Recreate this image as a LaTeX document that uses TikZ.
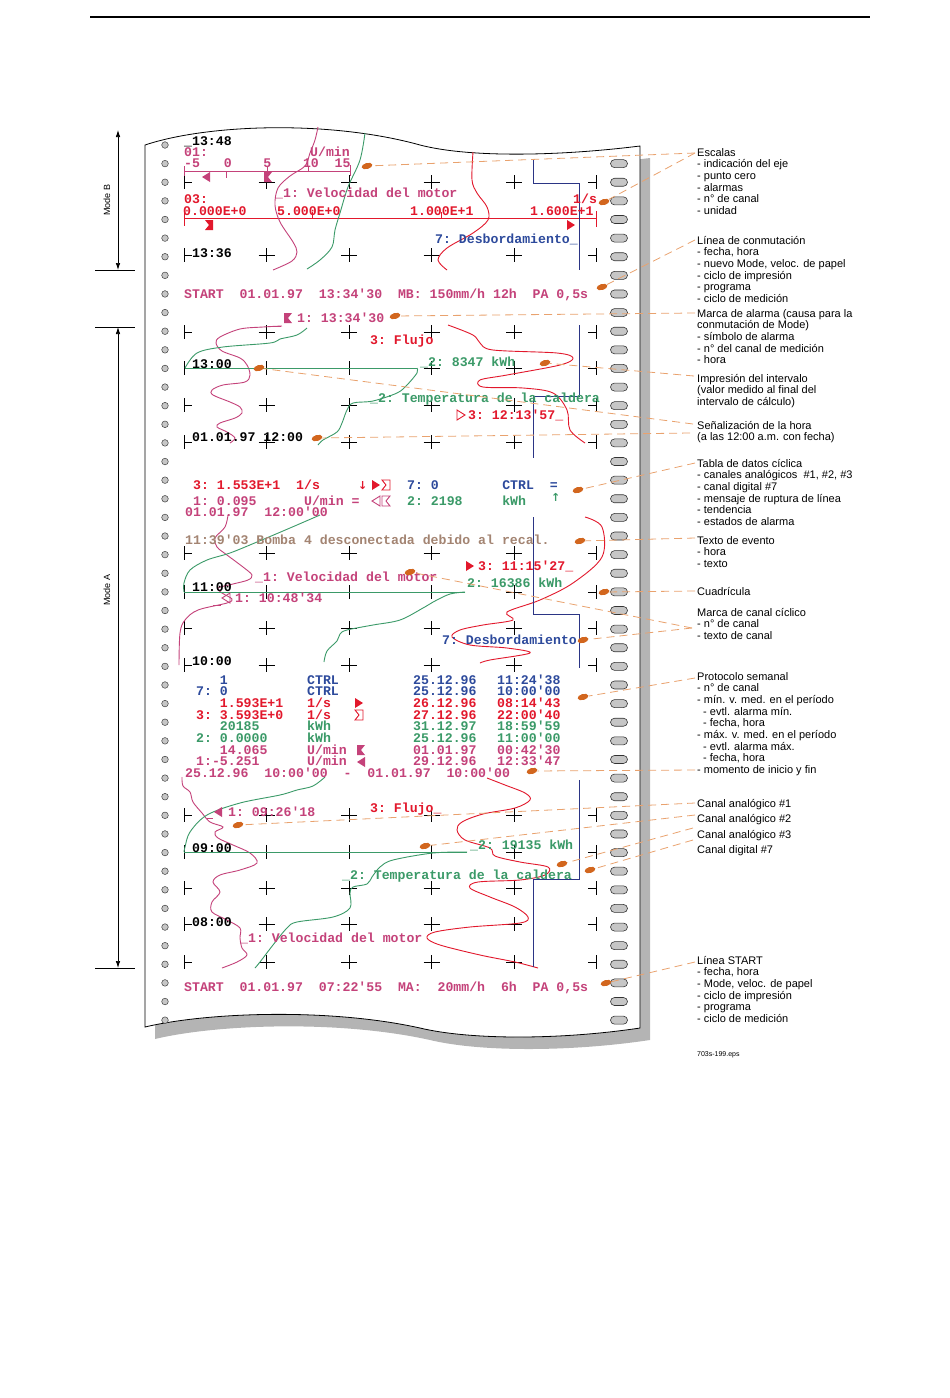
\documentclass[tikz,border=0pt]{standalone}
\usepackage{fontspec}
\setmainfont{Liberation Sans}
\newfontfamily\chartfont{Liberation Mono}
\newfontfamily\arrowfont{DejaVu Sans}
\usepackage{tikz}
\usetikzlibrary{arrows.meta,shapes.geometric}
\definecolor{speedcol}{HTML}{C4427A}
\definecolor{tempcol}{HTML}{3B9A68}
\definecolor{flowcol}{HTML}{E2182C}
\definecolor{digcol}{HTML}{2D4A9C}
\definecolor{digline}{HTML}{2B3585}
\definecolor{eventcol}{HTML}{A38472}
\definecolor{blobcol}{HTML}{D2661E}
\definecolor{calloutcol}{HTML}{E9A26E}
\definecolor{shadowcol}{HTML}{B4B4B4}
\definecolor{holecol}{HTML}{C6C6C6}

% outline of the paper strip (top and bottom cut alike)
\newcommand{\paperpath}{(145,145) .. controls (208,124) and (330,120) .. (420,145)
  .. controls (470,158) and (560,156) .. (640,146) -- (640,1028)
  .. controls (560,1040) and (470,1040) .. (420,1028)
  .. controls (330,1008) and (208,1012) .. (145,1027) -- cycle}

\tikzset{
  chart/.style={font=\chartfont\bfseries\fontsize{13.2}{13.2}\selectfont, inner sep=0pt,
    text height=8.7pt, text depth=0pt, anchor=west},
  note/.style={font=\fontsize{11}{11.7}\selectfont, inner sep=0pt, anchor=base west, align=left},
  blob/.style={ellipse, fill=blobcol, minimum width=11pt, minimum height=6pt, inner sep=0pt, rotate=15},
  callout/.style={calloutcol, line width=0.8pt, dash pattern=on 8pt off 5pt},
  trace/.style={line width=0.9pt, smooth, tension=0.55},
  gridtick/.style={line width=0.75pt, black},
  pics/alarmright/.style={code={\path[pic actions] (-4,-5) -- (4,0) -- (-4,5) -- cycle;}},
  pics/alarmleft/.style={code={\path[pic actions] (4,-5) -- (-4,0) -- (4,5) -- cycle;}},
  pics/notchmax/.style={code={\path[pic actions] (-4,-5) -- (4,-5) -- (4,5) -- (-4,5) -- (0,0) -- cycle;}},
  pics/notchmin/.style={code={\path[pic actions] (-4,-5) -- (4,-5) -- (0,0) -- (4,5) -- (-4,5) -- cycle;}},
}

\begin{document}
\begin{tikzpicture}[x=1pt, y=-1pt, >=Latex]
\useasboundingbox (0,0) rectangle (950,1398);

% header rule
\draw[line width=1.2pt] (90,17) -- (870,17);

% paper strip with shadow
\fill[shadowcol, shift={(10,12)}] \paperpath;
\filldraw[fill=white, draw=black, line width=0.8pt] \paperpath;

% feed holes
\foreach \k in {0,...,47}
  \filldraw[fill=holecol, draw=black!75, line width=0.5pt] (165,{145+18.62*\k}) circle (3.3);
\foreach \k in {1,...,47}
  \filldraw[fill=holecol, draw=black!80, line width=0.6pt, rounded corners=4pt]
    (610.5,{141+18.62*\k}) rectangle ++(17,8);

% grid
\foreach \gy in {182,255,332,368,405,442,553,592,628,665,815,852,888,924,962}{
  \draw[gridtick] (184,\gy-7) -- (184,\gy+7) (184,\gy) -- (192,\gy);
  \foreach \gx in {266.5,349,431.5,514}
    \draw[gridtick] (\gx-8,\gy) -- (\gx+8,\gy) (\gx,\gy-7) -- (\gx,\gy+7);
  \draw[gridtick] (596.5,\gy-7) -- (596.5,\gy+7) (588,\gy) -- (596.5,\gy);
}

% scales (Mode B)
\draw[speedcol, line width=0.8pt] (184,171) -- (350,171)
  (184,166) -- (184,176) (226,171) -- (226,178) (267,166) -- (267,171)
  (308.5,166) -- (308.5,171) (350,165) -- (350,176);
\draw[flowcol, line width=0.8pt] (184,218) -- (596,218)
  (184,211) -- (184,226) (312.5,212) -- (312.5,218) (441.5,212) -- (441.5,218) (596,211) -- (596,227);

% channel 1, motor speed
\draw[trace, speedcol] plot coordinates {(318,127) (315,140) (310,153) (305,166) (290,176) (278,188) (275,205) (280,222) (293,242) (297,252) (292,261) (273,270)};
\draw[trace, speedcol] plot coordinates {(282,326) (263,327) (240,329) (220,337) (216,343) (222,351) (240,358) (247,365) (250,375) (245,382) (223,385) (212,390) (213,395) (230,402) (240,407) (242,413) (235,418) (220,423) (217,427) (227,432) (235,438) (230,443)};
\draw[trace, speedcol] plot coordinates {(228,515) (225,527) (215,538) (217,547) (227,555) (243,567) (252,575) (248,580) (233,584) (218,588) (222,593) (232,599) (227,603) (198,610) (185,620) (180,633) (179,665)};
\draw[trace, speedcol] plot coordinates {(182,777) (183,786) (190,792) (193,802) (202,813) (210,822) (223,827) (215,832) (218,838) (233,845) (250,853) (257,863) (240,870) (220,875) (213,882) (220,892) (212,902) (212,912) (227,920) (240,928) (240,938) (242,948) (247,955) (237,962) (222,968)};

% channel 2, boiler temperature
\draw[trace, tempcol] plot coordinates {(365,133) (360,160) (348,187) (340,213) (335,230) (332,247) (320,260) (307,269)};
\draw[trace, tempcol] plot coordinates {(307,328) (297,335) (280,339) (270,343) (223,347) (197,353) (185,368)};
\draw[tempcol, line width=0.9pt] (185,368) -- (417,368);
\draw[trace, tempcol] plot coordinates {(417,368) (417,373) (407,385) (397,393) (373,401) (353,403) (347,410) (342,423) (337,432) (323,440) (318,445)};
\draw[trace, tempcol] plot coordinates {(320,515) (290,528) (257,542) (230,553) (207,560) (190,570) (184,583) (184,592)};
\draw[tempcol, line width=0.9pt] (184,592) -- (465,592);
\draw[trace, tempcol] plot coordinates {(465,592) (450,594) (435,601) (423,608) (400,620) (373,625) (347,630) (340,634) (337,641) (327,651) (324,662)};
\draw[trace, tempcol] plot coordinates {(325,777) (313,786) (297,790) (280,795) (240,803) (207,815) (190,832) (185,847) (184,852)};
\draw[tempcol, line width=0.9pt] (184,852) -- (467,852);
\draw[trace, tempcol] plot coordinates {(467,852) (433,853) (393,860) (380,867) (372,877) (367,884) (353,887) (350,893) (350,908) (333,917) (297,922) (287,928) (273,945) (260,962) (255,968)};

% channel 3, flow
\draw[trace, flowcol] plot coordinates {(473,152) (472,180) (477,193) (487,207) (488,220) (473,233) (447,248) (438,260) (447,270)};
\draw[trace, flowcol] plot coordinates {(448,325) (473,335) (480,343) (493,350) (557,353) (573,358) (560,365) (507,375) (480,380) (483,387) (523,388) (553,393) (567,410) (570,430) (585,443)};
\draw[trace, flowcol] plot coordinates {(585,517) (602,527) (602,557) (573,583) (540,600) (507,612) (513,620) (483,625) (460,630) (452,637) (470,645) (507,648) (530,653) (490,660) (480,663)};
\draw[trace, flowcol] plot coordinates {(487,778) (505,785) (525,793) (530,800) (515,808) (483,814) (462,822) (457,830) (465,840) (490,848) (495,856) (520,862) (548,867) (545,875) (520,880) (478,882) (470,888) (490,897) (515,907) (528,917) (520,923) (470,927) (435,932) (427,938) (440,945) (480,955) (515,962) (538,968)};

% channel 7, digital
\draw[digline, line width=0.9pt] (533,160) -- (533,183) -- (579,183) -- (579,270);
\draw[digline, line width=0.9pt] (579,325) -- (579,396) -- (533,396) -- (533,458);
\draw[digline, line width=0.9pt] (533,517) -- (533,614) -- (579,614) -- (579,668);
\draw[digline, line width=0.9pt] (579,780) -- (579,879) -- (533,879) -- (533,967);

% printed texts, Mode B
\node[chart] (t1348) at (184,141) {\_13:48};
\node[chart, speedcol] (scaleOne) at (184,152.5) {01:};
\node[chart, speedcol] (scaleOneUnit) at (310,152.5) {U/min};
\node[chart, speedcol] (scaleOneNum) at (184,163.5) {-5~~~0~~~~5~~~~10~~15};
\node[chart, speedcol] (speedName1) at (275,193) {\_1:~Velocidad~del~motor};
\node[chart, flowcol] (scaleThree) at (184,199) {03:};
\node[chart, flowcol] (scaleThreeUnit) at (573,199) {1/s};
\node[chart, flowcol] (scaleThreeA) at (183,211) {0.000E+0};
\node[chart, flowcol] (scaleThreeB) at (277,211) {5.000E+0};
\node[chart, flowcol] (scaleThreeC) at (410,211) {1.000E+1};
\node[chart, flowcol] (scaleThreeD) at (530,211) {1.600E+1};
\node[chart, digcol] (digName1) at (435,239) {7:~Desbordamiento\_};
\node[chart] (t1336) at (192,253) {13:36};
\node[chart, speedcol] (startB) at (184,294) {START~~01.01.97~~13:34'30~~MB:~150mm/h~12h~~PA~0,5s};

% Mode A, first hours
\node[chart, speedcol] (alarmOne) at (297,318) {1:~13:34'30};
\node[chart, flowcol] (flowName1) at (370,340) {3:~Flujo};
\node[chart] (t1300) at (192,364) {13:00};
\node[chart, tempcol] (tempVal1) at (420,362) {\_2:~8347~kWh};
\node[chart, tempcol] (tempName1) at (370,398) {\_2:~Temperatura~de~la~caldera};
\node[chart, flowcol] (alarmThree) at (468,415) {3:~12:13'57\_};
\node[chart] (t1200) at (192,437) {01.01.97~12:00};

% cyclic data table and event
\node[chart, flowcol] (tabFlow) at (193,485) {3:~1.553E+1~~1/s};
\node[chart, flowcol, font=\arrowfont\bfseries\fontsize{11}{11}\selectfont] (tabDown) at (358,485) {↓};
\node[chart, digcol] (tabDig) at (407,485) {7:~0~~~~~~~~CTRL~~=};
\node[chart, speedcol] (tabSpeed) at (193,501) {1:~0.095~~~~~~U/min~=};
\node[chart, tempcol] (tabTemp) at (407,501) {2:~2198~~~~~kWh};
\node[chart, tempcol, font=\arrowfont\bfseries\fontsize{11}{11}\selectfont] (tabUp) at (551,497) {↑};
\node[chart, speedcol] (tabTime) at (185,512.5) {01.01.97~~12:00'00};
\node[chart, eventcol] (eventText) at (185,540) {11:39'03~Bomba~4~desconectada~debido~al~recal.};
\node[chart, flowcol] (alarmThreeB) at (478,566) {3:~11:15'27\_};
\node[chart, speedcol] (speedName2) at (255,577) {\_1:~Velocidad~del~motor};
\node[chart, tempcol] (tempVal2) at (467,583) {2:~16386~kWh};
\node[chart] (t1100) at (192,587) {11:00};
\node[chart, speedcol] (alarmOneB) at (235,598) {1:~10:48'34};
\node[chart, digcol] (digName2) at (442,640) {7:~Desbordamiento};
\node[chart] (t1000) at (192,661) {10:00};

% weekly protocol
\foreach \py/\pc/\pval/\punit/\pdate/\ptime [count=\pi] in {
  680/digcol/{~~~1}/{CTRL}/{25.12.96}/{11:24'38},
  691.5/digcol/{7:~0}/{CTRL}/{25.12.96}/{10:00'00},
  703/flowcol/{~~~1.593E+1}/{1/s}/{26.12.96}/{08:14'43},
  715/flowcol/{3:~3.593E+0}/{1/s}/{27.12.96}/{22:00'40},
  726.5/tempcol/{~~~20185}/{kWh}/{31.12.97}/{18:59'59},
  738/tempcol/{2:~0.0000}/{kWh}/{25.12.96}/{11:00'00},
  750/speedcol/{~~~14.065}/{U/min}/{01.01.97}/{00:42'30},
  761.5/speedcol/{1:-5.251}/{U/min}/{29.12.96}/{12:33'47}}{
  \node[chart, color=\pc] (pval\pi) at (196,\py) {\pval};
  \node[chart, color=\pc] (punit\pi) at (307,\py) {\punit};
  \node[chart, color=\pc] (pdate\pi) at (413,\py) {\pdate};
  \node[chart, color=\pc] (ptime\pi) at (497,\py) {\ptime};
}
\node[chart, speedcol] (weekSpan) at (185,773) {25.12.96~~10:00'00~~-~~01.01.97~~10:00'00};

% Mode A, last hours
\node[chart, speedcol] (alarmOneC) at (228,812) {1:~09:26'18};
\node[chart, flowcol] (flowName2) at (370,808) {3:~Flujo\_};
\node[chart] (t0900) at (192,848) {09:00};
\node[chart, tempcol] (tempVal3) at (470,845) {\_2:~19135~kWh};
\node[chart, tempcol] (tempName2) at (342,875) {\_2:~Temperatura~de~la~caldera};
\node[chart] (t0800) at (192,922) {08:00};
\node[chart, speedcol] (speedName3) at (240,938) {\_1:~Velocidad~del~motor};
\node[chart, speedcol] (startA) at (184,987) {START~~01.01.97~~07:22'55~~MA:~~20mm/h~~6h~~PA~0,5s};

% alarm symbols
\pic[fill=speedcol] at (206,177) {alarmleft};
\pic[fill=speedcol] at (268,177) {notchmin};
\pic[fill=flowcol] at (209,225) {notchmax};
\pic[fill=flowcol] at (571,225) {alarmright};
\pic[fill=speedcol] at (288,318) {notchmin};
\draw[speedcol, line width=0.9pt] (273,326) -- (281,326);
\pic[draw=flowcol, line width=0.9pt] at (461,415) {alarmright};
\pic[fill=flowcol] at (376,485) {alarmright};
\pic[draw=flowcol, line width=0.9pt] at (386,485) {notchmax};
\pic[draw=speedcol, line width=0.9pt] at (376,501) {alarmleft};
\pic[draw=speedcol, line width=0.9pt] at (386,501) {notchmin};
\pic[fill=flowcol] at (470,566) {alarmright};
\pic[draw=speedcol, line width=0.9pt] at (226,598) {alarmleft};
\draw[speedcol, line width=0.9pt] (213,605) -- (221,605);
\pic[fill=flowcol] at (359,703) {alarmright};
\pic[draw=flowcol, line width=0.9pt] at (359,715) {notchmax};
\pic[fill=speedcol] at (361,750) {notchmin};
\pic[fill=speedcol] at (361,762) {alarmleft};
\pic[fill=speedcol] at (218,812) {alarmleft};
\draw[speedcol, line width=0.9pt] (207,818) -- (213,818);

% explanations (base = last line)
\node[note] (escalas) at (697,214.5) {Escalas\\- indicación del eje\\- punto cero\\- alarmas\\- n° de canal\\- unidad};
\node[note] (conmut) at (697,302.5) {Línea de conmutación\\- fecha, hora\\- nuevo Mode, veloc. de papel\\- ciclo de impresión\\- programa\\- ciclo de medición};
\node[note] (marca) at (697,363.8) {Marca de alarma (causa para la\\conmutación de Mode)\\- símbolo de alarma\\- n° del canal de medición\\- hora};
\node[note] (impres) at (697,405.4) {Impresión del intervalo\\(valor medido al final del\\intervalo de cálculo)};
\node[note] (senal) at (697,440.7) {Señalización de la hora\\(a las 12:00 a.m. con fecha)};
\node[note] (tabla) at (697,525.5) {Tabla de datos cíclica\\- canales analógicos~~\#1, \#2, \#3\\- canal digital \#7\\- mensaje de ruptura de línea\\- tendencia\\- estados de alarma};
\node[note] (evento) at (697,567.4) {Texto de evento\\- hora\\- texto};
\node[note] (cuadr) at (697,595.5) {Cuadrícula};
\node[note] (ciclo) at (697,639.4) {Marca de canal cíclico\\- n° de canal\\- texto de canal};
\node[note] (proto) at (697,773.6) {Protocolo semanal\\- n° de canal\\- mín. v. med. en el período\\\hspace{6pt}- evtl. alarma mín.\\\hspace{6pt}- fecha, hora\\- máx. v. med. en el período\\\hspace{6pt}- evtl. alarma máx.\\\hspace{6pt}- fecha, hora\\- momento de inicio y fin};
\node[note] (chOne) at (697,807) {Canal analógico \#1};
\node[note] (chTwo) at (697,822.5) {Canal analógico \#2};
\node[note] (chThree) at (697,838) {Canal analógico \#3};
\node[note] (chSeven) at (697,853.5) {Canal digital \#7};
\node[note] (startNote) at (697,1022.5) {Línea START\\- fecha, hora\\- Mode, veloc. de papel\\- ciclo de impresión\\- programa\\- ciclo de medición};
\node[note, font=\fontsize{7}{7}\selectfont] (epsName) at (697,1056) {703s-199.eps};

% callout ends at the explanations
\coordinate (escalasEnd) at (695,153);
\coordinate (conmutEnd) at (695,240);
\coordinate (marcaEnd) at (695,313);
\coordinate (impresEnd) at (694,376);
\coordinate (senalEndA) at (693,424);
\coordinate (senalEndB) at (690,433);
\coordinate (tablaEnd) at (695,463);
\coordinate (eventoEnd) at (695,538);
\coordinate (cuadrEnd) at (695,591);
\coordinate (cicloEnd) at (692,628);
\coordinate (protoEnd) at (695,678);
\coordinate (momentoEnd) at (695,770);
\coordinate (chOneEnd) at (695,803);
\coordinate (chTwoEnd) at (695,815);
\coordinate (chThreeEnd) at (693,828);
\coordinate (chSevenEnd) at (693,840);
\coordinate (startEnd) at (695,962);

% pointers on the chart
\node[blob] (bScaleU) at (367,166) {};
\node[blob] (bScaleS) at (604,202) {};
\node[blob] (bSwitch) at (602,287) {};
\node[blob] (bAlarm) at (395,316) {};
\node[blob] (bInterval) at (545,363) {};
\node[blob] (bHour) at (259,368) {};
\node[blob] (bDate) at (317,438) {};
\node[blob] (bTable) at (578,490) {};
\node[blob] (bEvent) at (580,541) {};
\node[blob] (bGrid) at (604,592) {};
\node[blob] (bMarkOne) at (410,572) {};
\node[blob] (bMarkSeven) at (583,640) {};
\node[blob] (bWeek) at (583,697) {};
\node[blob] (bPeriod) at (532,771) {};
\node[blob] (bChOne) at (238,825) {};
\node[blob] (bChTwo) at (425,846) {};
\node[blob] (bChThree) at (562,864) {};
\node[blob] (bChSeven) at (590,870) {};
\node[blob] (bStart) at (606,983) {};

\draw[callout] (escalasEnd) -- (bScaleU);
\draw[callout] (escalasEnd) -- (bScaleS);
\draw[callout] (conmutEnd) -- (bSwitch);
\draw[callout] (marcaEnd) -- (bAlarm);
\draw[callout] (impresEnd) -- (bInterval);
\draw[callout] (senalEndA) -- (bHour);
\draw[callout] (senalEndB) -- (bDate);
\draw[callout] (tablaEnd) -- (bTable);
\draw[callout] (eventoEnd) -- (bEvent);
\draw[callout] (cuadrEnd) -- (bGrid);
\draw[callout] (cicloEnd) -- (bMarkOne);
\draw[callout] (cicloEnd) -- (bMarkSeven);
\draw[callout] (protoEnd) -- (bWeek);
\draw[callout] (momentoEnd) -- (bPeriod);
\draw[callout] (chOneEnd) -- (bChOne);
\draw[callout] (chTwoEnd) -- (bChTwo);
\draw[callout] (chThreeEnd) -- (bChThree);
\draw[callout] (chSevenEnd) -- (bChSeven);
\draw[callout] (startEnd) -- (bStart);

% mode ranges
\draw[line width=0.6pt] (95,270) -- (135,270) (95,327) -- (135,327) (95,968) -- (135,968);
\coordinate (modeBTop) at (118,130);
\coordinate (modeBBot) at (118,270);
\coordinate (modeATop) at (118,327);
\coordinate (modeABot) at (118,968);
\draw[{Latex[length=7pt,width=4.5pt]}-{Latex[length=7pt,width=4.5pt]}, line width=0.7pt] (modeBTop) -- (modeBBot);
\draw[{Latex[length=7pt,width=4.5pt]}-{Latex[length=7pt,width=4.5pt]}, line width=0.7pt] (modeATop) -- (modeABot);
\node[rotate=90, font=\fontsize{9}{9}\selectfont, inner sep=0pt] (modeB) at (107,200) {Mode B};
\node[rotate=90, font=\fontsize{9}{9}\selectfont, inner sep=0pt] (modeA) at (107,590) {Mode A};
\end{tikzpicture}
\end{document}
